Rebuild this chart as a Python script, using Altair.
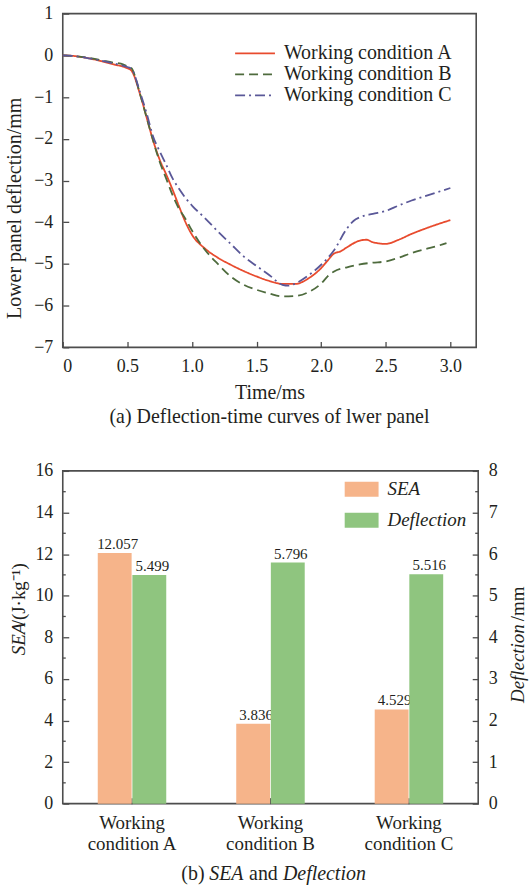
import altair as alt
import pandas as pd

FONT = "Liberation Serif"
TXT = "#231F20"
FRAME = "#4D4D4D"

# ---------------- (a) deflection-time curves ----------------
series_names = ["Working condition A", "Working condition B", "Working condition C"]
line_colors = ["#E84B2E", "#4E6B3D", "#5A5898"]
line_dashes = [[1, 0], [9, 5], [10, 4, 2, 4]]

tA = [0, 0.1, 0.2, 0.3, 0.4, 0.5, 0.53, 0.6, 0.65, 0.7, 0.75, 0.8, 0.85, 0.9, 0.95, 1.0,
      1.1, 1.2, 1.3, 1.4, 1.5, 1.6, 1.7, 1.8, 1.9, 2.0, 2.05, 2.1, 2.15, 2.2, 2.3, 2.35,
      2.4, 2.5, 2.6, 2.7, 2.8, 2.9, 3.0]
yA = [0, -0.02, -0.07, -0.14, -0.22, -0.31, -0.36, -0.95, -1.5, -2.05, -2.5, -2.85, -3.22,
      -3.62, -4.0, -4.3, -4.63, -4.85, -5.02, -5.17, -5.3, -5.41, -5.48, -5.48, -5.35, -5.1,
      -4.92, -4.75, -4.7, -4.6, -4.44, -4.42, -4.48, -4.52, -4.42, -4.28, -4.16, -4.05, -3.95]

tB = [0, 0.1, 0.2, 0.3, 0.4, 0.45, 0.5, 0.53, 0.6, 0.65, 0.7, 0.75, 0.8, 0.85, 0.9, 0.95,
      1.0, 1.1, 1.2, 1.3, 1.4, 1.5, 1.6, 1.7, 1.8, 1.9, 2.0, 2.05, 2.1, 2.2, 2.3, 2.4, 2.5,
      2.6, 2.7, 2.8, 2.9, 2.97]
yB = [0, -0.02, -0.06, -0.12, -0.18, -0.2, -0.26, -0.3, -0.95, -1.5, -2.05, -2.55, -2.95,
      -3.35, -3.68, -3.92, -4.2, -4.66, -5.0, -5.3, -5.5, -5.62, -5.71, -5.78, -5.77, -5.68,
      -5.47, -5.3, -5.18, -5.08, -5.01, -4.97, -4.94, -4.85, -4.74, -4.65, -4.57, -4.5]

tC = [0, 0.1, 0.2, 0.3, 0.4, 0.5, 0.53, 0.6, 0.65, 0.7, 0.75, 0.8, 0.85, 0.9, 0.95, 1.0,
      1.1, 1.2, 1.3, 1.4, 1.5, 1.6, 1.7, 1.75, 1.8, 1.9, 2.0, 2.1, 2.2, 2.25, 2.3, 2.4, 2.5,
      2.6, 2.7, 2.8, 2.9, 3.0]
yC = [0, -0.02, -0.07, -0.13, -0.2, -0.28, -0.32, -0.9, -1.4, -1.95, -2.3, -2.62, -2.95,
      -3.2, -3.42, -3.6, -3.9, -4.22, -4.52, -4.82, -5.05, -5.27, -5.5, -5.52, -5.47, -5.28,
      -5.02, -4.67, -4.15, -3.97, -3.88, -3.8, -3.73, -3.6, -3.48, -3.38, -3.28, -3.18]

x_ticks_a = [0, 0.5, 1.0, 1.5, 2.0, 2.5, 3.0]
y_ticks_a = [-7, -6, -5, -4, -3, -2, -1, 0, 1]

rows = []
for name, ts, vs in zip(series_names, [tA, tB, tC], [yA, yB, yC]):
    for t, v in zip(ts, vs):
        rows.append({"cond": name, "time": t, "defl": v})
df_top = pd.DataFrame(rows)

W, H = 415, 335

AX = dict(labelFont=FONT, labelFontSize=18, labelColor=TXT, titleFont=FONT,
          titleFontSize=20, titleColor=TXT, titleFontWeight="normal", domain=False,
          grid=False, tickColor=FRAME, tickWidth=1.3, tickSize=alt.ExprRef(expr="-6"),
          labelPadding=16)

legend_a = alt.Legend(
    title=None, orient="none", legendX=182, legendY=29, symbolType="M-2,0H2",
    symbolSize=400, symbolStrokeWidth=1.8, symbolFillColor="transparent",
    labelFont=FONT, labelFontSize=20, labelLimit=400,
    labelColor=TXT, labelOffset=18, rowPadding=alt.ExprRef(expr="-5"), padding=0,
)

top = alt.Chart(df_top).mark_line(strokeWidth=1.8, interpolate="monotone").encode(
    x=alt.X("time:Q", scale=alt.Scale(domain=[0, 3.2], nice=False, zero=False),
            axis=alt.Axis(title="Time/ms", values=x_ticks_a,
                          labelExpr="datum.value == 0 ? '0' : format(datum.value, '.1f')",
                          titlePadding=7, **AX)),
    y=alt.Y("defl:Q", scale=alt.Scale(domain=[-7, 1], nice=False),
            axis=alt.Axis(title="Lower panel deflection/mm", values=y_ticks_a,
                          titlePadding=9, titleY=195, **AX)),
    color=alt.Color("cond:N", scale=alt.Scale(domain=series_names, range=line_colors),
                    legend=legend_a),
    strokeDash=alt.StrokeDash("cond:N", scale=alt.Scale(domain=series_names, range=line_dashes),
                              legend=legend_a),
    order=alt.Order("time:Q"),
).properties(
    width=W, height=H,
    title=alt.TitleParams("(a) Deflection-time curves of lwer panel", orient="bottom",
                          anchor="middle", font=FONT, fontSize=20, fontWeight="normal",
                          color=TXT, offset=5),
)

# ---------------- (b) SEA and Deflection ----------------
cats = ["Working condition A", "Working condition B", "Working condition C"]
sea = [12.057, 3.836, 4.529]
defl = [5.499, 5.796, 5.516]
bar_series = ["SEA", "Deflection"]
bar_colors = ["#F6B48A", "#8FC57F"]
sea_ticks = [0, 2, 4, 6, 8, 10, 12, 14, 16]
sea_minor = [1, 3, 5, 7, 9, 11, 13, 15]
defl_ticks = [0, 1, 2, 3, 4, 5, 6, 7, 8]

df_sea = pd.DataFrame({"case": cats, "value": sea, "kind": "SEA"})
df_def = pd.DataFrame({"case": cats, "value": defl, "kind": "Deflection"})
df_minor = pd.DataFrame({"v": sea_minor})

W2, H2 = 417, 334

x_ax = {k: v for k, v in AX.items() if k not in ("labelPadding", "labelFontSize")}
x_enc = alt.X("case:N", sort=cats, scale=alt.Scale(paddingInner=0.5, paddingOuter=0.25),
              axis=alt.Axis(title=None, labelAngle=0, labelLineHeight=21, labelPadding=16,
                            labelFontSize=19,
                            labelExpr="['Working', substring(datum.label, 8)]", **x_ax))
xoff = alt.XOffset("kind:N", scale=alt.Scale(domain=bar_series, paddingInner=0, paddingOuter=0))
color_b = alt.Color("kind:N", scale=alt.Scale(domain=bar_series, range=bar_colors),
                    legend=alt.Legend(title=None, orient="none", legendX=290.5, legendY=9,
                                      symbolType="M-2,-0.88H2V0.88H-2Z", symbolSize=289,
                                      symbolStrokeWidth=0, labelFont=FONT, labelFontSize=19,
                                      labelFontStyle="italic", labelColor=TXT, labelOffset=16.5,
                                      labelLimit=300, rowPadding=11, padding=0))

sea_scale = alt.Scale(domain=[0, 16], nice=False)
def_scale = alt.Scale(domain=[0, 8], nice=False)

sea_bars = alt.Chart(df_sea).mark_bar(size=34).encode(
    x=x_enc, xOffset=xoff,
    y=alt.Y("value:Q", scale=sea_scale,
            axis=alt.Axis(title=None, values=sea_ticks, orient="left", **AX)),
    color=color_b,
)
sea_text = alt.Chart(df_sea).mark_text(baseline="bottom", dy=-1, dx=3, font=FONT,
                                       fontSize=15, color=TXT).encode(
    x=x_enc, xOffset=xoff, y=alt.Y("value:Q", scale=sea_scale),
    text=alt.Text("value:Q", format=".3f"),
)
minor_l = alt.Chart(df_minor).mark_rule(color=FRAME, strokeWidth=1.3).encode(
    y=alt.Y("v:Q", scale=sea_scale), x=alt.value(0), x2=alt.value(3))
minor_r = alt.Chart(df_minor).mark_rule(color=FRAME, strokeWidth=1.3).encode(
    y=alt.Y("v:Q", scale=sea_scale), x=alt.value(W2 - 3), x2=alt.value(W2))

title_kw = dict(font=FONT, fontSize=19, color=TXT, baseline="middle", align="left", angle=270)
cap_kw = dict(font=FONT, fontSize=20, color=TXT, baseline="middle", align="left")
one = pd.DataFrame({"k": [0]})
sea_t1 = alt.Chart(one).mark_text(text="SEA", fontStyle="italic", **title_kw).encode(
    x=alt.value(-44), y=alt.value(185))
sea_t2 = alt.Chart(one).mark_text(text="/(J·kg⁻¹)", **title_kw).encode(
    x=alt.value(-44), y=alt.value(155))
def_t1 = alt.Chart(one).mark_text(text="Deflection", fontStyle="italic", **title_kw).encode(
    x=alt.value(457), y=alt.value(233))
def_t2 = alt.Chart(one).mark_text(text="/mm", **title_kw).encode(
    x=alt.value(457), y=alt.value(151))
cap1 = alt.Chart(one).mark_text(text="(b)", **cap_kw).encode(x=alt.value(119), y=alt.value(405))
cap2 = alt.Chart(one).mark_text(text="SEA", fontStyle="italic", **cap_kw).encode(
    x=alt.value(147), y=alt.value(405))
cap3 = alt.Chart(one).mark_text(text="and", **cap_kw).encode(x=alt.value(187), y=alt.value(405))
cap4 = alt.Chart(one).mark_text(text="Deflection", fontStyle="italic", **cap_kw).encode(
    x=alt.value(221), y=alt.value(405))

def_bars = alt.Chart(df_def).mark_bar(size=34).encode(
    x=x_enc, xOffset=xoff,
    y=alt.Y("value:Q", scale=def_scale,
            axis=alt.Axis(title=None, values=defl_ticks, orient="right", **AX)),
    color=color_b,
)
def_text = alt.Chart(df_def).mark_text(baseline="bottom", dy=-1, dx=3, font=FONT,
                                       fontSize=15, color=TXT).encode(
    x=x_enc, xOffset=xoff, y=alt.Y("value:Q", scale=def_scale),
    text=alt.Text("value:Q", format=".3f"),
)

left_layer = alt.layer(sea_bars, sea_text, minor_l, minor_r, sea_t1, sea_t2, def_t1, def_t2,
                       cap1, cap2, cap3, cap4)
right_layer = alt.layer(def_bars, def_text)
bottom = alt.layer(left_layer, right_layer).resolve_scale(y="independent").properties(
    width=W2, height=H2)

chart = alt.vconcat(top, bottom, spacing=33).resolve_scale(
    color="independent", strokeDash="independent", xOffset="independent",
).resolve_legend(color="independent", strokeDash="independent").properties(
    padding={"left": 4, "top": 2, "right": 0, "bottom": 0},
    background="white",
).configure(
    font=FONT,
).configure_view(
    stroke=FRAME, strokeWidth=1.6,
).configure_axis(
    labelFont=FONT, titleFont=FONT,
).configure_legend(
    labelFont=FONT,
)

chart.save("out.html", embed_options={"renderer": "svg", "actions": False})
